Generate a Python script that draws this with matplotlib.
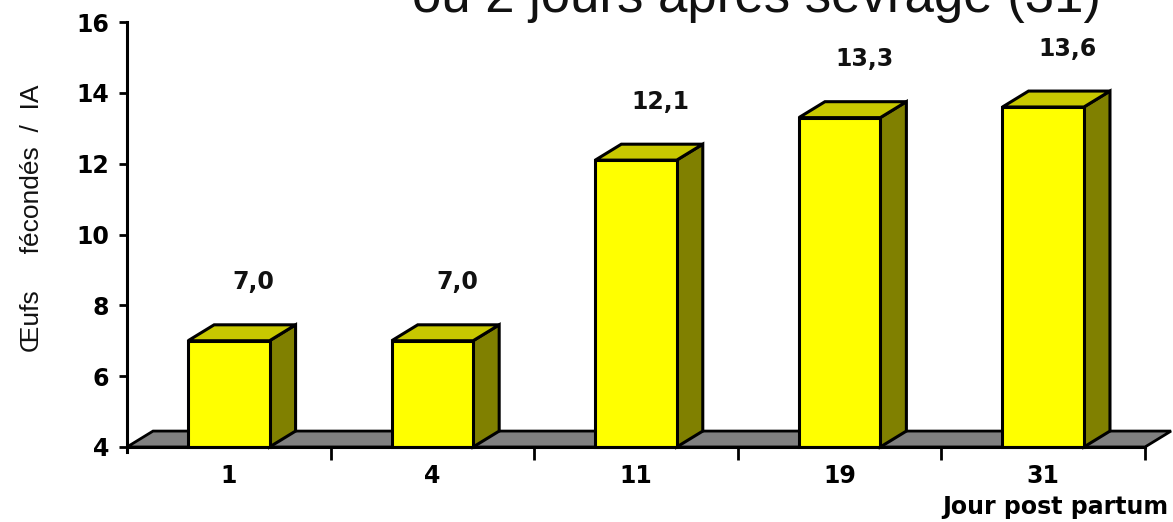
import matplotlib
matplotlib.use("Agg")
import matplotlib.pyplot as plt
from matplotlib.patches import Polygon

days = ["1", "4", "11", "19", "31"]
oeufs = [7.0, 7.0, 12.1, 13.3, 13.6]
value_labels = ["7,0", "7,0", "12,1", "13,3", "13,6"]
y_ticks = [4, 6, 8, 10, 12, 14, 16]

plt.rcParams["font.family"] = ["DejaVu Sans"]

FRONT = "#ffff00"
SIDE = "#808000"
TOP = "#c8c800"
FLOOR = "#808080"
BASE = 4.0
DX, DY = 0.128, 0.45     # fake depth, in data units
HALF = 0.2               # half width of the front face

fig = plt.figure(figsize=(11.73, 5.22), dpi=100)
ax = fig.add_axes([127 / 1173, 75 / 522, 1018 / 1173, 425 / 522])
ax.set_xlim(0, len(days))
ax.set_ylim(BASE, 16)

# grey floor
floor = [(0, BASE), (len(days), BASE), (len(days) + DX, BASE + DY), (DX, BASE + DY)]
ax.add_patch(Polygon(floor, closed=True, facecolor=FLOOR, edgecolor="black",
                     linewidth=2, clip_on=False, zorder=1))

for i, v in enumerate(oeufs):
    x0, x1 = i + 0.5 - HALF, i + 0.5 + HALF
    side = [(x1, BASE), (x1, v), (x1 + DX, v + DY), (x1 + DX, BASE + DY)]
    top = [(x0, v), (x1, v), (x1 + DX, v + DY), (x0 + DX, v + DY)]
    front = [(x0, BASE), (x1, BASE), (x1, v), (x0, v)]
    for pts, col in [(side, SIDE), (top, TOP), (front, FRONT)]:
        ax.add_patch(Polygon(pts, closed=True, facecolor=col, edgecolor="black",
                             linewidth=2.2, joinstyle="miter", zorder=3, clip_on=False))
    ax.text(i + 0.62, v + 1.65, value_labels[i], ha="center", va="center",
            fontsize=17, fontweight="bold", color="#111111")

for side_name in ["top", "right"]:
    ax.spines[side_name].set_visible(False)
for side_name in ["left", "bottom"]:
    ax.spines[side_name].set_linewidth(2.2)
    ax.spines[side_name].set_zorder(4)
ax.spines["left"].set_bounds(BASE - 0.15, 16)

ax.set_yticks(y_ticks)
ax.set_yticklabels([str(t) for t in y_ticks], fontsize=17, fontweight="bold")
ax.tick_params(axis="y", direction="out", length=6, width=2, pad=7)

ax.set_xticks(range(1, len(days) + 1))
ax.set_xticklabels([])
ax.tick_params(axis="x", which="major", direction="out", length=9, width=2)
ax.set_xticks([i + 0.5 for i in range(len(days))], minor=True)
ax.set_xticklabels(days, minor=True, fontsize=17, fontweight="bold")
ax.tick_params(axis="x", which="minor", length=0, pad=12)

fig.text(1168 / 1173, 8 / 522, "Jour post partum", ha="right", va="baseline",
         fontsize=17, fontweight="bold")
fig.text(32 / 1173, 1 - 218 / 522, "Œufs     fécondés  /  IA", rotation=90,
         ha="center", va="center", fontsize=19, color="#111111",
         family=["Liberation Sans", "DejaVu Sans"])
fig.text(756 / 1173, 1 - 12 / 522, "ou 2 jours après sevrage (31)",
         ha="center", va="baseline", fontsize=38, color="#111111",
         family=["Liberation Sans", "DejaVu Sans"])

fig.savefig("out.png", dpi=100)
